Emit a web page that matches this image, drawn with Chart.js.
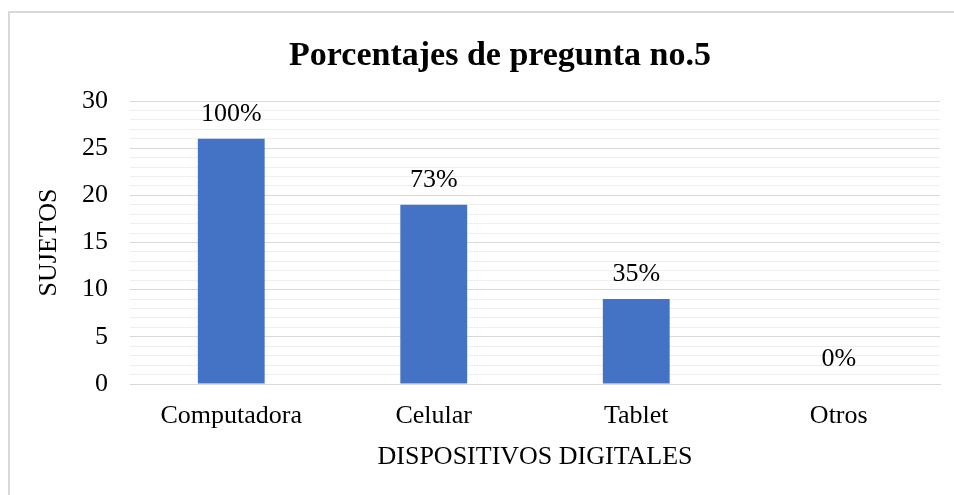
<!DOCTYPE html>
<html>
<head>
<meta charset="utf-8">
<script src="https://cdn.jsdelivr.net/npm/chart.js@4.4.0/dist/chart.umd.min.js"></script>
<style>
  html, body { margin: 0; padding: 0; background: #fff; overflow: hidden; }
  #frame { position: absolute; left: 8px; top: 11px; width: 1000px; height: 1000px;
           border-left: 2px solid #d9d9d9; border-top: 2px solid #d9d9d9; }
  #wrap { position: absolute; left: 0; top: 0; width: 954px; height: 495px; }
</style>
</head>
<body>
<div id="frame"></div>
<div id="wrap"><canvas id="chart"></canvas></div>
<script>
// datos de la pregunta 5
const categories = ["Computadora", "Celular", "Tablet", "Otros"];
const sujetos = [26, 19, 9, 0];
const percentLabels = ["100%", "73%", "35%", "0%"];
const yTicks = [0, 5, 10, 15, 20, 25, 30];
const chartTitle = "Porcentajes de pregunta no.5";

const FONT = '"Liberation Serif", "Times New Roman", serif';
const MAJOR = "#d9d9d9";
const MINOR = "#efefef";

// etiquetas de porcentaje encima de cada barra
const barLabels = {
  id: "barLabels",
  afterDatasetsDraw(chart) {
    const { ctx } = chart;
    const meta = chart.getDatasetMeta(0);
    ctx.save();
    ctx.font = "26px " + FONT;
    ctx.fillStyle = "#000";
    ctx.textAlign = "center";
    ctx.textBaseline = "middle";
    meta.data.forEach((bar, i) => {
      ctx.fillText(percentLabels[i], bar.x, bar.y - 25);
    });
    ctx.restore();
  },
};

// título centrado sobre el marco del gráfico (no sobre el canvas)
const frameTitle = {
  id: "frameTitle",
  afterDraw(chart) {
    const { ctx } = chart;
    ctx.save();
    ctx.font = "bold 34px " + FONT;
    ctx.fillStyle = "#000";
    ctx.textAlign = "center";
    ctx.textBaseline = "middle";
    ctx.fillText(chartTitle, 500, 56);
    ctx.restore();
  },
};

new Chart(document.getElementById("chart"), {
  type: "bar",
  data: {
    labels: categories,
    datasets: [{
      data: sujetos,
      backgroundColor: "#4472C4",
      barPercentage: 0.33,
      categoryPercentage: 1,
    }],
  },
  plugins: [barLabels, frameTitle],
  options: {
    responsive: true,
    maintainAspectRatio: false,
    animation: false,
    layout: { padding: { top: 101, right: 14, bottom: 0, left: 0 } },
    plugins: {
      legend: { display: false },
      tooltip: { enabled: false },
      title: { display: false },
    },
    scales: {
      x: {
        afterFit: (s) => { s.height = 111; },
        grid: { display: false, drawTicks: false },
        border: { color: MAJOR, width: 1 },
        ticks: { color: "#000", font: { family: FONT, size: 26 }, padding: 17 },
        title: {
          display: true,
          text: "DISPOSITIVOS DIGITALES",
          color: "#000",
          font: { family: FONT, size: 26 },
          padding: { top: 0, bottom: 22 },
        },
      },
      y: {
        min: 0,
        max: 30,
        afterFit: (s) => { s.width = 130; },
        afterBuildTicks: (s) => {
          const t = [];
          for (let v = 0; v <= 30; v++) t.push({ value: v });
          s.ticks = t;
        },
        grid: {
          drawTicks: false,
          color: (c) => (c.tick && yTicks.includes(c.tick.value) ? MAJOR : MINOR),
          lineWidth: 1,
        },
        border: { display: false },
        ticks: {
          autoSkip: false,
          color: "#000",
          font: { family: FONT, size: 26 },
          padding: 22,
          callback: (v) => (yTicks.includes(v) ? v : ""),
        },
        title: {
          display: true,
          text: "SUJETOS",
          color: "#000",
          font: { family: FONT, size: 26 },
          padding: { top: 34, bottom: 0 },
        },
      },
    },
  },
});
</script>
</body>
</html>
